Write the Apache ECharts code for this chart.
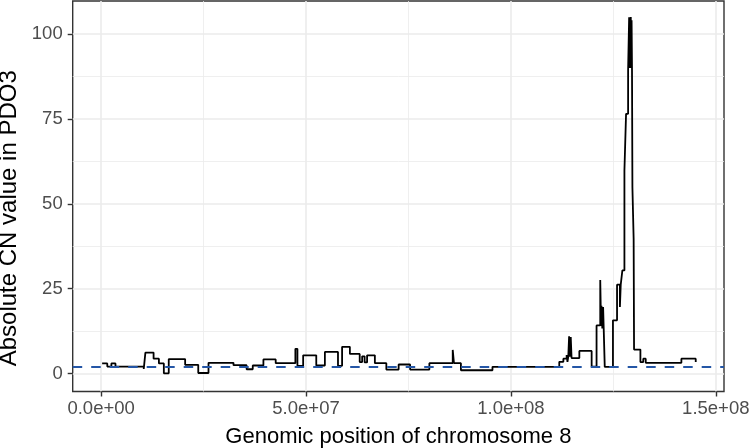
<!DOCTYPE html>
<html>
<head>
<meta charset="utf-8">
<script src="https://cdn.jsdelivr.net/npm/echarts@6/dist/echarts.min.js"></script>
<style>
html,body{margin:0;padding:0;background:#fff;}
#chart{width:752px;height:448px;}
</style>
</head>
<body>
<div id="chart"></div>
<script>
// Segment start positions (Mb) and absolute CN values (held until next position)
const positionsMb = [0.24, 1.5, 2.5, 3.5, 10.4, 10.8, 12.8, 14.1, 15.3, 16.5, 20.5, 23.7, 26.2, 32.3, 35.5, 37.0, 39.6, 42.6, 47.4, 47.9, 49.3, 52.5, 54.6, 57.8, 58.8, 60.7, 63.1, 63.7, 64.3, 64.9, 66.8, 69.6, 72.6, 75.4, 80.1, 85.8, 86.1, 87.8, 95.5, 111.8, 112.8, 113.6, 113.8, 114.0, 114.2, 114.4, 114.6, 114.8, 116.7, 119.7, 120.9, 121.8, 122.0, 122.1, 122.3, 122.5, 122.9, 124.9, 125.9, 126.6, 126.8, 127.2, 127.7, 128.1, 128.6, 128.85, 128.95, 129.05, 129.15, 129.25, 129.35, 129.45, 129.55, 129.65, 129.95, 130.05, 131.6, 132.3, 132.9, 141.6, 145.1];
const cnValues = [3.0, 2.1, 3.0, 2.1, 1.4, 6.2, 4.4, 3.0, 0.1, 4.3, 2.6, 0.2, 3.2, 2.5, 1.3, 2.4, 4.2, 3.1, 7.3, 2.3, 5.4, 2.4, 6.4, 2.3, 7.9, 5.8, 3.4, 5.1, 3.3, 5.4, 3.1, 1.2, 2.7, 1.2, 3.1, 7.0, 3.1, 1.0, 2.0, 3.5, 4.4, 5.5, 3.5, 5.0, 11.0, 5.0, 10.8, 4.6, 6.7, 2.1, 14.2, 27.6, 14.0, 20.0, 13.3, 19.6, 2.0, 15.7, 26.2, 19.6, 26.2, 30.4, 59.8, 76.5, 89.4, 104.9, 90.0, 104.0, 91.0, 105.0, 90.0, 104.0, 89.4, 54.9, 39.7, 7.1, 3.4, 4.4, 3.2, 4.4, 3.4];
const referenceCN = [2];
const xTickValues = [0, 50, 100, 150];
const xTickLabels = ['0.0e+00', '5.0e+07', '1.0e+08', '1.5e+08'];
const yTickValues = [0, 25, 50, 75, 100];
const yTickLabels = ['0', '25', '50', '75', '100'];

const lineData = positionsMb.map((p, i) => [p, cnValues[i]]);
const FONT = 'Liberation Sans';

const chart = echarts.init(document.getElementById('chart'), null, {renderer: 'canvas'});
chart.setOption({
  animation: false,
  backgroundColor: '#ffffff',
  grid: {
    left: 72.7, right: 28, top: 1, bottom: 56.5,
    containLabel: false, outerBoundsMode: 'none',
    show: true, borderColor: '#333333', borderWidth: 1.4, backgroundColor: 'transparent'
  },
  xAxis: {
    type: 'value', min: -6.94, max: 152.0,
    minInterval: 50, maxInterval: 50,
    axisLine: {show: false, onZero: false},
    axisTick: {show: true, length: 5, customValues: xTickValues, lineStyle: {color: '#333333', width: 1.4}},
    axisLabel: {
      show: true, customValues: xTickValues, margin: 8,
      fontFamily: FONT, fontSize: 18.5, color: '#4D4D4D',
      formatter: v => { const i = xTickValues.indexOf(v); return i >= 0 ? xTickLabels[i] : ''; }
    },
    splitLine: {show: true, lineStyle: {color: '#EBEBEB', width: 1.6}},
    minorTick: {show: false, splitNumber: 2},
    minorSplitLine: {show: true, lineStyle: {color: '#EBEBEB', width: 0.8}},
    name: 'Genomic position of chromosome 8', nameLocation: 'middle', nameGap: 34,
    nameTextStyle: {fontFamily: FONT, fontSize: 22, color: '#000000'}
  },
  yAxis: {
    type: 'value', min: -5.25, max: 109.7,
    minInterval: 25, maxInterval: 25,
    axisLine: {show: false, onZero: false},
    axisTick: {show: true, length: 5, customValues: yTickValues, lineStyle: {color: '#333333', width: 1.4}},
    axisLabel: {
      show: true, customValues: yTickValues, margin: 10,
      fontFamily: FONT, fontSize: 18.5, color: '#4D4D4D',
      formatter: v => { const i = yTickValues.indexOf(v); return i >= 0 ? yTickLabels[i] : ''; }
    },
    splitLine: {show: true, lineStyle: {color: '#EBEBEB', width: 1.6}},
    minorTick: {show: false, splitNumber: 2},
    minorSplitLine: {show: true, lineStyle: {color: '#EBEBEB', width: 0.8}},
    name: 'Absolute CN value in PDO3', nameLocation: 'middle', nameGap: 48,
    nameTextStyle: {fontFamily: FONT, fontSize: 24, color: '#000000', padding: [0, 44, 0, 0]}
  },
  series: [{
    type: 'line',
    data: lineData,
    step: 'end',
    showSymbol: false,
    symbol: 'none',
    lineStyle: {color: '#000000', width: 1.8},
    z: 3,
    markLine: {
      silent: true,
      symbol: 'none',
      label: {show: false},
      lineStyle: {color: '#2456A6', width: 2, type: [9.5, 9]},
      data: referenceCN.map(v => ({yAxis: v}))
    }
  }]
});
</script>
</body>
</html>
